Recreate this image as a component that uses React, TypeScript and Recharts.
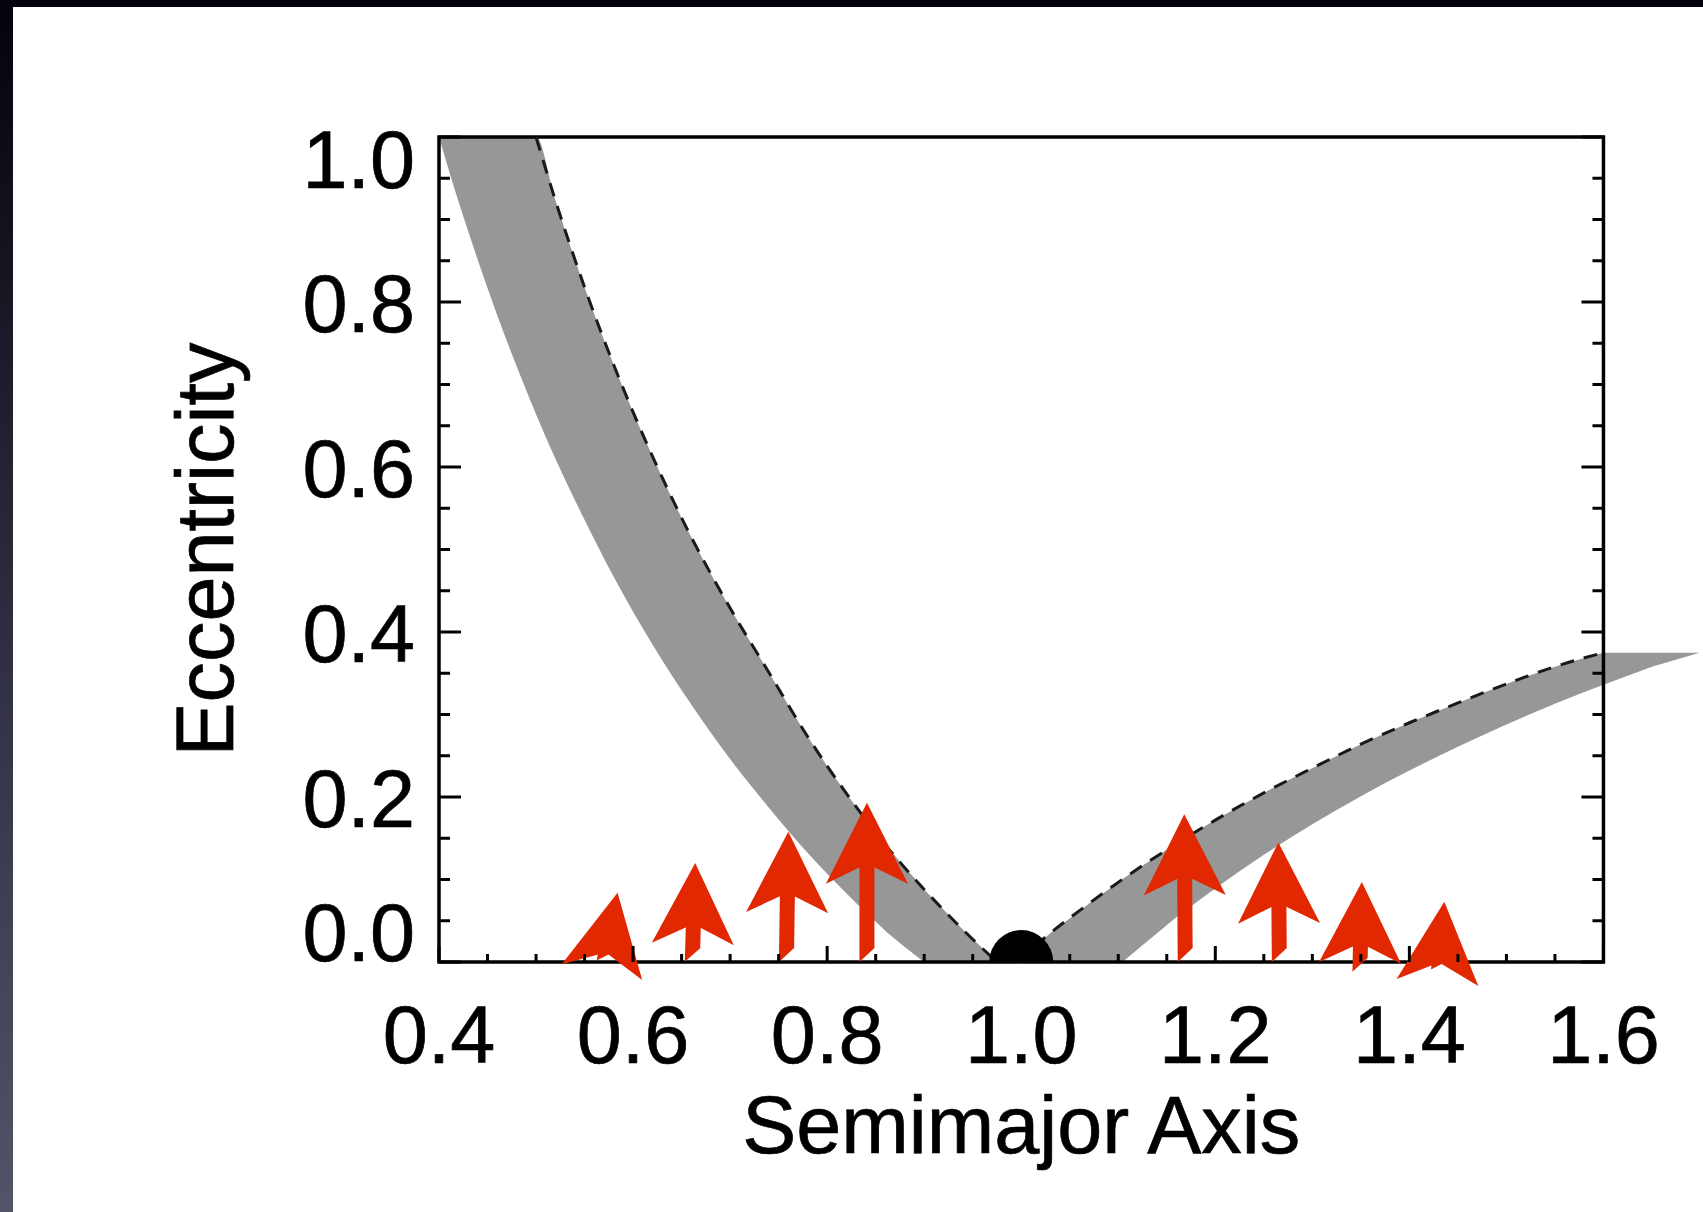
import React from "react";
import {
  ComposedChart,
  Area,
  Line,
  Scatter,
  XAxis,
  YAxis,
  ReferenceLine,
  ReferenceDot,
  ReferenceArea
} from "recharts";

// axis ticks (major every 0.2, minor every 0.05)
const xTicks = [
  0.4, 0.45, 0.5, 0.55, 0.6, 0.65, 0.7, 0.75, 0.8, 0.85, 0.9, 0.95, 1.0,
  1.05, 1.1, 1.15, 1.2, 1.25, 1.3, 1.35, 1.4, 1.45, 1.5, 1.55, 1.6
];
const yTicks = [
  0, 0.05, 0.1, 0.15, 0.2, 0.25, 0.3, 0.35, 0.4, 0.45, 0.5, 0.55, 0.6, 0.65,
  0.7, 0.75, 0.8, 0.85, 0.9, 0.95, 1.0
];

// inner crossing band (grey), read at these semimajor axes
const innerA = [0.4, 0.42, 0.44, 0.46, 0.48, 0.5, 0.52, 0.55, 0.58, 0.62, 0.66, 0.7, 0.74, 0.78, 0.82, 0.86, 0.9];
const innerLow = [1.0, 0.922, 0.851, 0.784, 0.722, 0.664, 0.61, 0.536, 0.467, 0.385, 0.312, 0.246, 0.187, 0.132, 0.083, 0.038, 0];
const innerHigh = [1.0, 1.0, 1.0, 1.0, 1.0, 1.0, 0.923, 0.818, 0.724, 0.613, 0.515, 0.429, 0.351, 0.273, 0.204, 0.142, 0.088];

// foot of the inner band, where it sits on e = 0
const innerFootA = [0.86, 0.9, 0.94, 0.975];
const innerFootLow = [0.038, 0, 0, 0];
const innerFootHigh = [0.142, 0.088, 0.039, 0];

// dashed edge of inner band
const innerDashA = [0.5, 0.52, 0.55, 0.58, 0.62, 0.66, 0.7, 0.74, 0.78, 0.82, 0.86, 0.9, 0.94, 0.975];
const innerDashE = [1.0, 0.923, 0.818, 0.724, 0.613, 0.515, 0.429, 0.351, 0.273, 0.204, 0.142, 0.088, 0.039, 0];

// outer crossing band (grey)
const outerA = [1.104, 1.15, 1.2, 1.25, 1.3, 1.35, 1.4, 1.45, 1.5, 1.55, 1.6];
const outerLow = [0, 0.045, 0.089, 0.13, 0.167, 0.201, 0.232, 0.261, 0.288, 0.313, 0.336];
const outerHigh = [0.1, 0.136, 0.172, 0.205, 0.235, 0.264, 0.29, 0.314, 0.337, 0.358, 0.375];

// foot of the outer band, where it sits on e = 0
const outerFootA = [0.995, 1.03, 1.07, 1.104, 1.15];
const outerFootLow = [0, 0, 0, 0, 0.045];
const outerFootHigh = [0, 0.035, 0.071, 0.1, 0.136];

// part of the outer band running past the frame
const tailA = [1.6, 1.65, 1.699];
const tailLow = [0.336, 0.358, 0.375];
const tailHigh = [0.375, 0.375, 0.375];

// dashed edge of outer band
const outerDashA = [0.995, 1.03, 1.07, 1.104, 1.15, 1.2, 1.25, 1.3, 1.35, 1.4, 1.45, 1.5, 1.55, 1.6];
const outerDashE = [0, 0.035, 0.071, 0.1, 0.136, 0.172, 0.205, 0.235, 0.264, 0.29, 0.314, 0.337, 0.358, 0.375];

// red arrows: start (a, e) -> end (a, e)
const arrowFromA = [0.57, 0.661, 0.758, 0.841, 1.169, 1.266, 1.349, 1.43];
const arrowFromE = [0, 0, 0, 0, 0, 0, -0.012, -0.01];
const arrowToA = [0.584, 0.664, 0.76, 0.841, 1.168, 1.265, 1.351, 1.436];
const arrowToE = [0.084, 0.12, 0.158, 0.193, 0.179, 0.145, 0.097, 0.073];

// planet
const planetA = 1.0;
const planetE = 0;

const FONT = "'Liberation Sans', Arial, Helvetica, sans-serif";
const GREY = "#979797";
const RED = "#e12800";

const toRange = (as: number[], lo: number[], hi: number[]) =>
  as.map((a, i) => ({ a, range: [lo[i], hi[i]] }));

const innerBand = toRange(innerA, innerLow, innerHigh);
const innerFoot = toRange(innerFootA, innerFootLow, innerFootHigh);
const outerBand = toRange(outerA, outerLow, outerHigh);
const outerFoot = toRange(outerFootA, outerFootLow, outerFootHigh);
const tailBand = toRange(tailA, tailLow, tailHigh);
const innerDash = innerDashA.map((a, i) => ({ a, e: innerDashE[i] }));
const outerDash = outerDashA.map((a, i) => ({ a, e: outerDashE[i] }));
const rightTicks = yTicks.map((e) => ({ a: 1.6, e }));

const isMajor = (v: number) => Math.abs(v * 5 - Math.round(v * 5)) < 1e-6;

const textStyle = {
  fontSize: 81,
  fontFamily: FONT,
  fill: "#000",
  stroke: "#000",
  strokeWidth: 0.7
};

const BottomTick = (props: any) => {
  const { x, y, payload } = props;
  const v = payload.value as number;
  const major = isMajor(v);
  return (
    <g>
      <line x1={x} x2={x} y1={y} y2={y - (major ? 16 : 8)} stroke="#000" strokeWidth={3} />
      {major && (
        <text x={x} y={y + 101} textAnchor="middle" {...textStyle}>
          {v.toFixed(1)}
        </text>
      )}
      {v === 1.0 && (
        <text x={x} y={y + 191} textAnchor="middle" {...textStyle}>
          Semimajor Axis
        </text>
      )}
    </g>
  );
};

const TopTick = (props: any) => {
  const { x, y, payload } = props;
  const major = isMajor(payload.value);
  return <line x1={x} x2={x} y1={y} y2={y + (major ? 16 : 8)} stroke="#000" strokeWidth={3} />;
};

const LeftTick = (props: any) => {
  const { x, y, payload } = props;
  const v = payload.value as number;
  const major = isMajor(v);
  // IDL nudges the end labels inside the frame
  const dy = v === 1 ? 51 : v === 0 ? -1 : 29.5;
  return (
    <g>
      <line x1={x} x2={x + (major ? 22 : 11)} y1={y} y2={y} stroke="#000" strokeWidth={3} />
      {major && (
        <text x={x - 24} y={y + dy} textAnchor="end" {...textStyle}>
          {v.toFixed(1)}
        </text>
      )}
      {v === 0.5 && (
        <text
          x={x - 206}
          y={y}
          textAnchor="middle"
          {...textStyle}
          transform={`rotate(-90, ${x - 206}, ${y})`}
        >
          Eccentricity
        </text>
      )}
    </g>
  );
};

const RightTick = (props: any) => {
  const { cx, cy, payload } = props;
  const major = isMajor(payload.e);
  return <line x1={cx} x2={cx - (major ? 22 : 11)} y1={cy} y2={cy} stroke="#000" strokeWidth={3} />;
};

const ArrowShape = (props: any) => {
  const { x1, y1, x2, y2 } = props;
  const dx = x2 - x1;
  const dy = y2 - y1;
  const len = Math.hypot(dx, dy) || 1;
  const ux = dx / len;
  const uy = dy / len;
  const nx = -uy;
  const ny = ux;
  const H = 81; // head length
  const W = 41; // head half width
  const N = 61; // notch depth
  const S = 7.5; // shaft half width
  const fromTip = (d: number, s: number) => `${x2 - d * ux + s * nx},${y2 - d * uy + s * ny}`;
  const fromBase = (d: number, s: number) => `${x1 + d * ux + s * nx},${y1 + d * uy + s * ny}`;
  const shaftLen = len - N + 2;
  const cut = Math.max(0, Math.min(14, shaftLen));
  return (
    <g>
      {shaftLen > 0 && (
        <polygon
          points={[fromBase(0, -S), fromBase(shaftLen, -S), fromBase(shaftLen, S), fromBase(cut, S)].join(" ")}
          fill={RED}
        />
      )}
      <polygon points={[fromTip(0, 0), fromTip(H, W), fromTip(N, 0), fromTip(H, -W)].join(" ")} fill={RED} />
    </g>
  );
};

const HalfDisc = (props: any) => {
  const { cx, cy, r } = props;
  return <path d={`M${cx - r},${cy} A${r},${r} 0 0 1 ${cx + r},${cy} Z`} fill="#000" />;
};

const bandProps = {
  xAxisId: "bottom",
  dataKey: "range",
  stroke: "none",
  fill: GREY,
  fillOpacity: 1,
  isAnimationActive: false
};

const dashProps = {
  xAxisId: "bottom",
  dataKey: "e",
  type: "monotone" as const,
  stroke: "#1a1a1a",
  strokeWidth: 3,
  strokeDasharray: "14 10",
  dot: false,
  activeDot: false,
  isAnimationActive: false
};

const App: React.FC = () => {
  return (
    <div style={{ position: "absolute", left: 0, top: 0, width: 1703, height: 1212, background: "#fff", overflow: "hidden" }}>
      <ComposedChart width={1703} height={1212} margin={{ top: 136, right: 2.5, bottom: 0, left: 0 }}>
        <XAxis
          xAxisId="bottom"
          dataKey="a"
          type="number"
          domain={[0.4, 1.7]}
          ticks={xTicks}
          interval={0}
          height={250}
          axisLine={false}
          tickLine={false}
          tickSize={0}
          tickMargin={0}
          tick={BottomTick}
        />
        <XAxis
          xAxisId="top"
          orientation="top"
          dataKey="a"
          type="number"
          domain={[0.4, 1.7]}
          ticks={xTicks}
          interval={0}
          height={1}
          axisLine={false}
          tickLine={false}
          tickSize={0}
          tickMargin={0}
          tick={TopTick}
        />
        <YAxis
          dataKey="e"
          type="number"
          domain={[0, 1]}
          ticks={yTicks}
          interval={0}
          width={439}
          axisLine={false}
          tickLine={false}
          tickSize={0}
          tickMargin={0}
          tick={LeftTick}
        />
        <Area {...bandProps} data={innerBand} type="monotone" />
        <Area {...bandProps} data={innerFoot} type="linear" />
        <Area {...bandProps} data={outerBand} type="monotone" />
        <Area {...bandProps} data={outerFoot} type="linear" />
        <Area {...bandProps} data={tailBand} type="linear" />
        <Line {...dashProps} data={innerDash} />
        <Line {...dashProps} data={outerDash} />
        <ReferenceArea
          xAxisId="bottom"
          x1={0.4}
          x2={1.6}
          y1={0}
          y2={1}
          fill="none"
          fillOpacity={0}
          stroke="#000"
          strokeWidth={3.5}
        />
        <Scatter
          xAxisId="bottom"
          data={rightTicks}
          dataKey="e"
          shape={RightTick}
          isAnimationActive={false}
        />
        <ReferenceDot xAxisId="bottom" x={planetA} y={planetE} r={32} shape={HalfDisc} />
        {arrowFromA.map((a, i) => (
          <ReferenceLine
            key={i}
            xAxisId="bottom"
            segment={[
              { x: a, y: arrowFromE[i] },
              { x: arrowToA[i], y: arrowToE[i] }
            ]}
            ifOverflow="visible"
            shape={ArrowShape}
          />
        ))}
      </ComposedChart>
      <div style={{ position: "absolute", left: 0, top: 0, width: 1703, height: 7, background: "#02020a" }} />
      <div
        style={{
          position: "absolute",
          left: 0,
          top: 0,
          width: 13,
          height: 1212,
          background: "linear-gradient(#03030c, #2c2c3e 50%, #545468)"
        }}
      />
    </div>
  );
};

export default App;
